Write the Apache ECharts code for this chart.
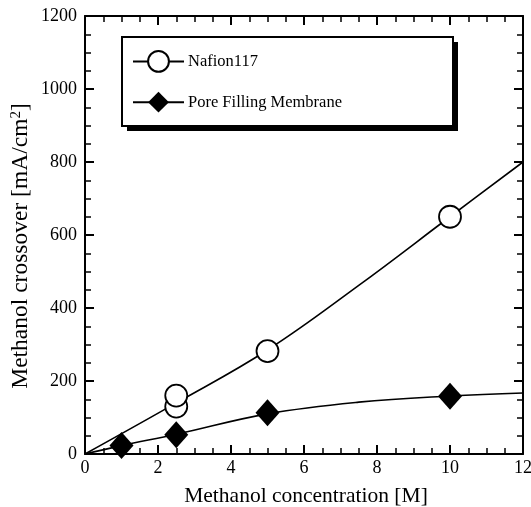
<!DOCTYPE html>
<html>
<head>
<meta charset="utf-8">
<script src="https://cdn.jsdelivr.net/npm/echarts@6/dist/echarts.min.js"></script>
<style>html,body{margin:0;padding:0;background:#fff;overflow:hidden;}#c{width:531px;height:507px;}</style>
</head>
<body>
<div id="c"></div>
<script>
// Data
var nafionX = [2.5, 2.5, 5, 10];
var nafionY = [130, 160, 282, 650];
var poreX = [1, 2.5, 5, 10];
var poreY = [23, 53, 113, 158];
// Fitted curves (drawn through the data)
var nafionFitX = [0, 2.5, 5, 7.5, 10, 12];
var nafionFitY = [0, 140, 285, 462, 650, 800];
var poreFitX = [0, 1, 2.5, 5, 7.5, 10, 12];
var poreFitY = [0, 23, 54, 110, 142, 159, 167];
var xTicks = [0, 2, 4, 6, 8, 10, 12];
var yTicks = [0, 200, 400, 600, 800, 1000, 1200];

function pairs(xs, ys) { return xs.map(function (x, i) { return [x, ys[i]]; }); }

var FONT = 'Liberation Serif';
var chart = echarts.init(document.getElementById('c'), null, {renderer: 'canvas'});

function axisBase(pos, isX, show) {
  return {
    type: 'value',
    position: pos,
    min: isX ? xTicks[0] : yTicks[0],
    max: isX ? xTicks[xTicks.length - 1] : yTicks[yTicks.length - 1],
    interval: isX ? 2 : 200,
    axisLine: {show: true, onZero: false, lineStyle: {color: '#000', width: 2}},
    axisTick: {show: true, inside: true, length: 9, lineStyle: {color: '#000', width: 2}},
    minorTick: {show: true, splitNumber: 4, length: 6, lineStyle: {color: '#000', width: 1.5}},
    splitLine: {show: false},
    minorSplitLine: {show: false},
    axisLabel: {
      show: show, color: '#000', fontFamily: FONT, fontSize: 18, margin: isX ? 5 : 8,
      formatter: function (v) { return String(v); }
    }
  };
}

var option = {
  animation: false,
  backgroundColor: '#fff',
  grid: {left: 85, right: 8, top: 16, bottom: 53, containLabel: false, outerBoundsMode: 'none'},
  xAxis: [axisBase('bottom', true, true), axisBase('top', true, false)],
  yAxis: [axisBase('left', false, true), axisBase('right', false, false)],
  legend: {
    left: 132, top: 50,
    orient: 'vertical',
    itemWidth: 51, itemHeight: 26, itemGap: 19,
    padding: 0,
    data: [
      {name: 'Nafion117'},
      {name: 'Pore Filling Membrane'}
    ],
    lineStyle: {color: '#000', width: 2, opacity: 1, type: 'solid'},
    textStyle: {color: '#000', fontFamily: FONT, fontSize: 16.5, padding: [0, 0, 0, -1]},
    selectedMode: false
  },
  graphic: [
    {
      type: 'rect', z: 1,
      shape: {x: 127, y: 42, width: 331, height: 89},
      style: {fill: '#000', stroke: null}
    },
    {
      type: 'rect', z: 1,
      shape: {x: 122, y: 37, width: 331, height: 89},
      style: {fill: '#fff', stroke: '#000', lineWidth: 2}
    },
    {
      type: 'text',
      x: 306, y: 496,
      style: {text: 'Methanol concentration [M]', font: '21.5px "Liberation Serif"', fill: '#000', align: 'center', verticalAlign: 'middle'}
    },
    {
      type: 'text',
      x: 21, y: 246, rotation: Math.PI / 2,
      style: {
        text: '{a|Methanol crossover [mA/cm}{s|2}{a|]}',
        align: 'center', verticalAlign: 'middle', fill: '#000',
        rich: {
          a: {fontFamily: FONT, fontSize: 23.5, color: '#000'},
          s: {fontFamily: FONT, fontSize: 15, color: '#000', verticalAlign: 'top'}
        }
      }
    }
  ],
  series: [
    {
      name: 'nafionFit', type: 'line', data: pairs(nafionFitX, nafionFitY), smooth: 0.4,
      showSymbol: false, symbol: 'none', lineStyle: {color: '#000', width: 1.6}, z: 2, silent: true
    },
    {
      name: 'poreFit', type: 'line', data: pairs(poreFitX, poreFitY), smooth: 0.4,
      showSymbol: false, symbol: 'none', lineStyle: {color: '#000', width: 1.6}, z: 2, silent: true
    },
    {
      name: 'Nafion117', type: 'line', data: pairs(nafionX, nafionY),
      symbol: 'circle', symbolSize: 22, showSymbol: true,
      lineStyle: {opacity: 0, width: 0},
      itemStyle: {color: '#fff', borderColor: '#000', borderWidth: 1.8, opacity: 1},
      z: 3
    },
    {
      name: 'Pore Filling Membrane', type: 'line', data: pairs(poreX, poreY),
      symbol: 'diamond', symbolSize: [24, 27], showSymbol: true,
      lineStyle: {opacity: 0, width: 0},
      itemStyle: {color: '#000', borderColor: '#000', borderWidth: 0, opacity: 1},
      z: 3
    }
  ]
};
chart.setOption(option);
</script>
</body>
</html>
